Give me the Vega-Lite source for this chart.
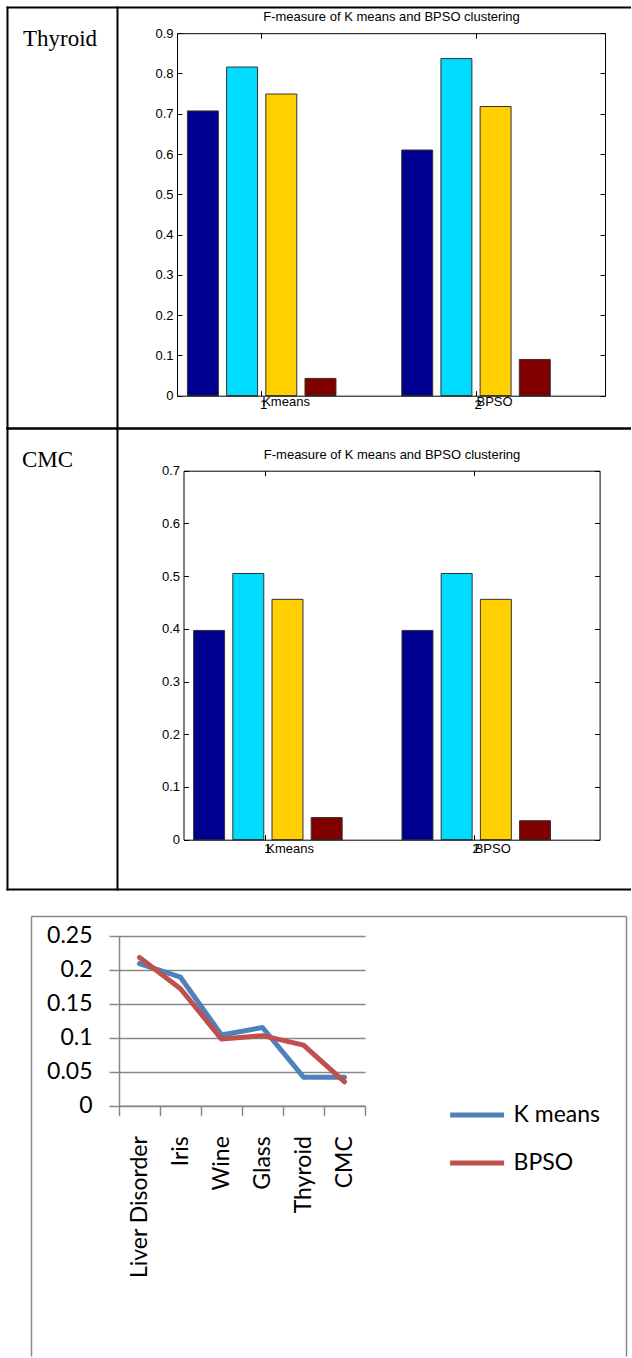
{
  "$schema": "https://vega.github.io/schema/vega-lite/v6.json",
  "padding": {"left": -4, "top": 7, "right": 0, "bottom": 0},
  "background": "white",
  "config": {
    "view": {"stroke": null},
    "axis": {"grid": false, "title": null, "labelOverlap": false, "minExtent": 0, "maxExtent": 400},
    "concat": {"spacing": 0}
  },
  "resolve": {"scale": {"color": "independent"}, "legend": {"color": "independent"}},
  "datasets": {
    "thyroid": [
      {"group": "Kmeans", "series": "1", "value": 0.707},
      {"group": "Kmeans", "series": "2", "value": 0.816},
      {"group": "Kmeans", "series": "3", "value": 0.749},
      {"group": "Kmeans", "series": "4", "value": 0.043},
      {"group": "BPSO", "series": "1", "value": 0.610},
      {"group": "BPSO", "series": "2", "value": 0.837},
      {"group": "BPSO", "series": "3", "value": 0.718},
      {"group": "BPSO", "series": "4", "value": 0.090}
    ],
    "cmc": [
      {"group": "Kmeans", "series": "1", "value": 0.397},
      {"group": "Kmeans", "series": "2", "value": 0.505},
      {"group": "Kmeans", "series": "3", "value": 0.456},
      {"group": "Kmeans", "series": "4", "value": 0.042},
      {"group": "BPSO", "series": "1", "value": 0.397},
      {"group": "BPSO", "series": "2", "value": 0.505},
      {"group": "BPSO", "series": "3", "value": 0.456},
      {"group": "BPSO", "series": "4", "value": 0.036}
    ],
    "groups": [{"group": "Kmeans"}, {"group": "BPSO"}],
    "fm": [
      {"dataset": "Liver Disorder", "method": "K means", "value": 0.209},
      {"dataset": "Iris", "method": "K means", "value": 0.189},
      {"dataset": "Wine", "method": "K means", "value": 0.104},
      {"dataset": "Glass", "method": "K means", "value": 0.115},
      {"dataset": "Thyroid", "method": "K means", "value": 0.042},
      {"dataset": "CMC", "method": "K means", "value": 0.042},
      {"dataset": "Liver Disorder", "method": "BPSO", "value": 0.218},
      {"dataset": "Iris", "method": "BPSO", "value": 0.172},
      {"dataset": "Wine", "method": "BPSO", "value": 0.098},
      {"dataset": "Glass", "method": "BPSO", "value": 0.103},
      {"dataset": "Thyroid", "method": "BPSO", "value": 0.089},
      {"dataset": "CMC", "method": "BPSO", "value": 0.035}
    ]
  },
  "bounds": "flush",
  "spacing": 0,
  "vconcat": [
    {
      "width": 624,
      "height": 421,
      "title": {"text": "Thyroid", "anchor": "start", "frame": "group", "orient": "top", "offset": -62, "dx": 16, "baseline": "alphabetic", "font": "Liberation Serif", "fontSize": 23, "fontWeight": "normal", "color": "black"},
      "layer": [
        {
          "layer": [
            {
              "data": {"name": "thyroid"},
              "mark": {"type": "bar", "stroke": "#333333", "strokeWidth": 1},
              "encoding": {
                "x": {"field": "group", "type": "nominal", "scale": {"domain": ["Kmeans", "BPSO"], "range": [170, 598], "paddingInner": 0.307, "paddingOuter": 0.152, "align": 0.16},
                  "axis": {"orient": "bottom", "offset": -32.3, "domainColor": "black", "domainWidth": 1, "ticks": true, "tickSize": -5, "tickColor": "black", "tickWidth": 1, "labelExpr": "datum.label == 'Kmeans' ? '1' : '2'", "labelFont": "Liberation Sans", "labelFontSize": 13, "labelColor": "black", "labelPadding": 8, "labelOffset": 2, "labelAngle": 0, "title": null, "zindex": 1}},
                "xOffset": {"field": "series", "type": "nominal", "scale": {"domain": ["1", "2", "3", "4"], "paddingInner": 0.21, "paddingOuter": 0}},
                "y": {"field": "value", "type": "quantitative", "scale": {"domain": [0, 0.9], "range": [388.7, 26.2], "nice": false},
                  "axis": {"orient": "left", "offset": -170, "values": [0, 0.1, 0.2, 0.3, 0.4, 0.5, 0.6, 0.7, 0.8, 0.9], "format": ".1~f", "domainColor": "black", "tickSize": -5, "tickColor": "black", "labelFont": "Liberation Sans", "labelFontSize": 13, "labelColor": "black", "labelPadding": 9, "title": null, "zindex": 1}},
                "color": {"field": "series", "type": "nominal", "scale": {"domain": ["1", "2", "3", "4"], "range": ["#000090", "#00DCFF", "#FFCF00", "#800000"]}, "legend": null}
              }
            },
            {
              "data": {"name": "groups"},
              "mark": {"type": "text", "align": "left", "baseline": "alphabetic", "dx": 0.5, "dy": 10.6, "font": "Liberation Sans", "fontSize": 13, "color": "black"},
              "encoding": {
                "x": {"field": "group", "type": "nominal",
                  "axis": {"orient": "top", "offset": -26.2, "domainColor": "black", "tickSize": -5, "tickColor": "black", "labels": false, "title": "F-measure of K means and BPSO clustering", "titleFont": "Liberation Sans", "titleFontSize": 13, "titleFontWeight": "normal", "titleColor": "black", "titlePadding": 12, "titleBaseline": "alphabetic", "zindex": 1}},
                "y": {"datum": 0, "type": "quantitative",
                  "axis": {"orient": "right", "offset": -26, "values": [0, 0.1, 0.2, 0.3, 0.4, 0.5, 0.6, 0.7, 0.8, 0.9], "domainColor": "black", "tickSize": -5, "tickColor": "black", "labels": false, "title": null, "zindex": 1}},
                "text": {"field": "group"}
              }
            }
          ],
          "resolve": {"axis": {"x": "independent", "y": "independent"}}
        },
        {
          "data": {"name": "groups"},
          "mark": {"type": "text", "text": ""},
          "encoding": {
            "x": {"datum": 0, "type": "quantitative", "scale": {"domain": [0, 1]}, "axis": {"orient": "top", "offset": 0, "domainColor": "black", "domainWidth": 2, "domainCap": "square", "ticks": false, "labels": false, "title": null}},
            "y": {"datum": 0, "type": "quantitative", "scale": {"domain": [0, 1]}, "axis": {"orient": "left", "offset": 0, "domainColor": "black", "domainWidth": 2, "domainCap": "square", "ticks": false, "labels": false, "title": null}}
          }
        },
        {
          "data": {"name": "groups"},
          "mark": {"type": "text", "text": ""},
          "encoding": {
            "x": {"datum": 0, "type": "quantitative", "scale": {"domain": [0, 1]}, "axis": {"orient": "bottom", "offset": 0, "domainColor": "black", "domainWidth": 2, "domainCap": "square", "ticks": false, "labels": false, "title": null}},
            "y": {"datum": 0, "type": "quantitative", "scale": {"domain": [0, 1]}, "axis": {"orient": "left", "offset": -110, "domainColor": "black", "domainWidth": 2, "domainCap": "square", "ticks": false, "labels": false, "title": null}}
          }
        }
      ],
      "resolve": {"scale": {"x": "independent", "y": "independent"}}
    },
    {
      "width": 624,
      "height": 461,
      "title": {"text": "CMC", "anchor": "start", "frame": "group", "orient": "top", "offset": -62, "dx": 15, "baseline": "alphabetic", "font": "Liberation Serif", "fontSize": 23, "fontWeight": "normal", "color": "black"},
      "layer": [
        {
          "layer": [
            {
              "data": {"name": "cmc"},
              "mark": {"type": "bar", "stroke": "#333333", "strokeWidth": 1},
              "encoding": {
                "x": {"field": "group", "type": "nominal", "scale": {"domain": ["Kmeans", "BPSO"], "range": [176.5, 592.6], "paddingInner": 0.307, "paddingOuter": 0.152, "align": 0.16},
                  "axis": {"orient": "bottom", "offset": -49.3, "domainColor": "black", "domainWidth": 1, "ticks": true, "tickSize": -5, "tickColor": "black", "tickWidth": 1, "labelExpr": "datum.label == 'Kmeans' ? '1' : '2'", "labelFont": "Liberation Sans", "labelFontSize": 13, "labelColor": "black", "labelPadding": 8, "labelOffset": 2, "labelAngle": 0, "title": null, "zindex": 1}},
                "xOffset": {"field": "series", "type": "nominal", "scale": {"domain": ["1", "2", "3", "4"], "paddingInner": 0.21, "paddingOuter": 0}},
                "y": {"field": "value", "type": "quantitative", "scale": {"domain": [0, 0.7], "range": [411.7, 42.7], "nice": false},
                  "axis": {"orient": "left", "offset": -176.5, "values": [0, 0.1, 0.2, 0.3, 0.4, 0.5, 0.6, 0.7], "format": ".1~f", "domainColor": "black", "tickSize": -5, "tickColor": "black", "labelFont": "Liberation Sans", "labelFontSize": 13, "labelColor": "black", "labelPadding": 9, "title": null, "zindex": 1}},
                "color": {"field": "series", "type": "nominal", "scale": {"domain": ["1", "2", "3", "4"], "range": ["#000090", "#00DCFF", "#FFCF00", "#800000"]}, "legend": null}
              }
            },
            {
              "data": {"name": "groups"},
              "mark": {"type": "text", "align": "left", "baseline": "alphabetic", "dx": 0.5, "dy": 13, "font": "Liberation Sans", "fontSize": 13, "color": "black"},
              "encoding": {
                "x": {"field": "group", "type": "nominal",
                  "axis": {"orient": "top", "offset": -42.7, "domainColor": "black", "tickSize": -5, "tickColor": "black", "labels": false, "title": "F-measure of K means and BPSO clustering", "titleFont": "Liberation Sans", "titleFontSize": 13, "titleFontWeight": "normal", "titleColor": "black", "titlePadding": 12, "titleBaseline": "alphabetic", "zindex": 1}},
                "y": {"datum": 0, "type": "quantitative",
                  "axis": {"orient": "right", "offset": -31.4, "values": [0, 0.1, 0.2, 0.3, 0.4, 0.5, 0.6, 0.7], "domainColor": "black", "tickSize": -5, "tickColor": "black", "labels": false, "title": null, "zindex": 1}},
                "text": {"field": "group"}
              }
            }
          ],
          "resolve": {"axis": {"x": "independent", "y": "independent"}}
        },
        {
          "data": {"name": "groups"},
          "mark": {"type": "text", "text": ""},
          "encoding": {
            "x": {"datum": 0, "type": "quantitative", "scale": {"domain": [0, 1]}, "axis": {"orient": "top", "offset": 0, "domainColor": "black", "domainWidth": 2, "domainCap": "square", "ticks": false, "labels": false, "title": null}},
            "y": {"datum": 0, "type": "quantitative", "scale": {"domain": [0, 1]}, "axis": {"orient": "left", "offset": 0, "domainColor": "black", "domainWidth": 2, "domainCap": "square", "ticks": false, "labels": false, "title": null}}
          }
        },
        {
          "data": {"name": "groups"},
          "mark": {"type": "text", "text": ""},
          "encoding": {
            "x": {"datum": 0, "type": "quantitative", "scale": {"domain": [0, 1]}, "axis": {"orient": "bottom", "offset": 0, "domainColor": "black", "domainWidth": 2, "domainCap": "square", "ticks": false, "labels": false, "title": null}},
            "y": {"datum": 0, "type": "quantitative", "scale": {"domain": [0, 1]}, "axis": {"orient": "left", "offset": -110, "domainColor": "black", "domainWidth": 2, "domainCap": "square", "ticks": false, "labels": false, "title": null}}
          }
        }
      ],
      "resolve": {"scale": {"x": "independent", "y": "independent"}}
    },
    {
      "width": 619,
      "height": 467,
      "layer": [
        {
          "data": {"name": "fm"},
          "mark": {"type": "line", "strokeWidth": 5, "strokeCap": "round", "strokeJoin": "round"},
          "encoding": {
            "x": {"field": "dataset", "type": "nominal",
              "scale": {"type": "band", "domain": ["Liver Disorder", "Iris", "Wine", "Glass", "Thyroid", "CMC"], "range": [112, 358], "paddingInner": 0, "paddingOuter": 0},
              "axis": {"orient": "bottom", "offset": -250.3, "tickBand": "extent", "domainColor": "#888888", "domainWidth": 1.5, "tickColor": "#888888", "tickWidth": 1.5, "tickSize": 10, "labelAngle": 270, "labelFont": "Lato", "labelFontSize": 23, "labelColor": "black", "labelPadding": 20, "title": null, "grid": false}},
            "y": {"field": "value", "type": "quantitative",
              "scale": {"domain": [0, 0.25], "range": [216.7, 46.7], "nice": false},
              "axis": {"orient": "left", "offset": -112, "values": [0, 0.05, 0.1, 0.15, 0.2, 0.25], "format": ".2~f", "grid": true, "gridColor": "#888888", "gridWidth": 1.5, "domainColor": "#888888", "domainWidth": 1.5, "tickColor": "#888888", "tickWidth": 1.5, "tickSize": 10, "labelFont": "Lato", "labelFontSize": 23, "labelColor": "black", "labelPadding": 17, "title": null}},
            "color": {"field": "method", "type": "nominal",
              "scale": {"domain": ["K means", "BPSO"], "range": ["#4F81BD", "#C0504D"]},
              "legend": {"orient": "none", "legendX": 440.6, "legendY": 203, "title": null, "symbolType": "stroke", "symbolSize": 2916, "symbolStrokeWidth": 5, "labelFont": "Lato", "labelFontSize": 23, "labelColor": "black", "labelOffset": 7, "clipHeight": 46, "rowPadding": 2, "padding": 0}}
          }
        },
        {
          "data": {"name": "groups"},
          "mark": {"type": "text", "text": ""},
          "encoding": {
            "x": {"datum": 0, "type": "quantitative", "scale": {"domain": [0, 1], "range": [24, 619]}, "axis": {"orient": "top", "offset": -27, "domainColor": "#888888", "domainWidth": 1.5, "ticks": false, "labels": false, "title": null}},
            "y": {"datum": 0, "type": "quantitative", "scale": {"domain": [0, 1], "range": [467, 27]}, "axis": {"orient": "left", "offset": -24, "domainColor": "#888888", "domainWidth": 1.5, "ticks": false, "labels": false, "title": null}}
          }
        },
        {
          "data": {"name": "groups"},
          "mark": {"type": "text", "text": ""},
          "encoding": {
            "y": {"datum": 0, "type": "quantitative", "scale": {"domain": [0, 1], "range": [467, 27]}, "axis": {"orient": "right", "offset": 0, "domainColor": "#888888", "domainWidth": 1.5, "ticks": false, "labels": false, "title": null}}
          }
        }
      ],
      "resolve": {"scale": {"x": "independent", "y": "independent"}}
    }
  ]
}
